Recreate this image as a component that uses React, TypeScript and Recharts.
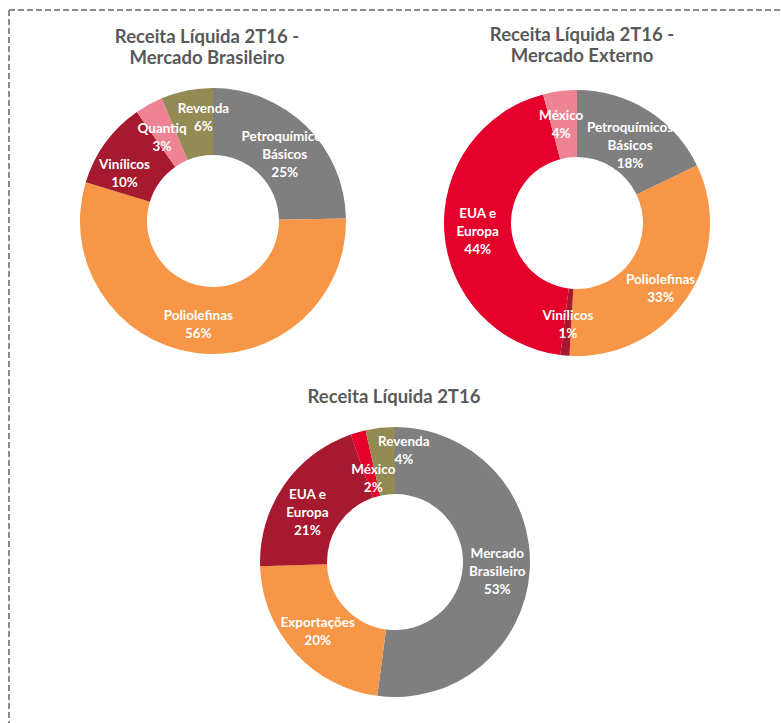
import React from 'react';
import { Cell, Pie, PieChart } from 'recharts';

// Receita Líquida 2T16 - Mercado Brasileiro
const brNames = ['Petroquímicos\nBásicos', 'Poliolefinas', 'Vinílicos', 'Quantiq', 'Revenda'];
const brValues = [24.7, 55, 10.6, 3.4, 6.3];
const brLabels = ['25%', '56%', '10%', '3%', '6%'];
const brColors = ['#7f7f7f', '#f79646', '#a6192e', '#ee8393', '#948a54'];

// Receita Líquida 2T16 - Mercado Externo
const extNames = ['Petroquímicos\nBásicos', 'Poliolefinas', 'Vinílicos', 'EUA e\nEuropa', 'México'];
const extValues = [17.9, 33, 1.1, 43.9, 4.1];
const extLabels = ['18%', '33%', '1%', '44%', '4%'];
const extColors = ['#7f7f7f', '#f79646', '#a6192e', '#e4002b', '#ee8393'];

// Receita Líquida 2T16
const totNames = ['Mercado\nBrasileiro', 'Exportações', 'EUA e\nEuropa', 'México', 'Revenda'];
const totValues = [52.1, 22.4, 20.2, 1.8, 3.5];
const totLabels = ['53%', '20%', '21%', '2%', '4%'];
const totColors = ['#7f7f7f', '#f79646', '#a6192e', '#e4002b', '#948a54'];

// small nudges for labels that Excel moved off the ring middle
const brShift = [[2, 4], [-1, 4], [-8, 10], [-3, 3], [10, -6]];
const extShift = [[0, 6], [1, 10], [0, 2], [0, 1], [-3, 0]];
const totShift = [[1, 2], [-2, 1], [-4, 8], [6, 14], [20, -11]];

const FONT = 'Lato, "Open Sans", sans-serif';
const RAD = Math.PI / 180;

const buildRows = (names: string[], values: number[], labels: string[]) =>
  names.map((name, i) => ({ name, value: values[i], pct: labels[i] }));

const makeLabel = (shift: number[][]) => (props: any) => {
  const { cx, cy, midAngle, innerRadius, outerRadius, payload, index } = props;
  const r = (innerRadius + outerRadius) / 2;
  const [dx, dy] = shift[index] ?? [0, 0];
  const x = cx + r * Math.cos(-midAngle * RAD) + dx;
  const y = cy + r * Math.sin(-midAngle * RAD) + dy;
  const lines = [...String(payload.name).split('\n'), payload.pct];
  const lh = 18;
  const top = y - ((lines.length - 1) * lh) / 2;
  return (
    <text
      x={x}
      y={top}
      textAnchor="middle"
      dominantBaseline="central"
      fill="#ffffff"
      fontFamily={FONT}
      fontWeight={700}
      fontSize={13.5}
    >
      {lines.map((l, i) => (
        <tspan key={i} x={x} y={top + i * lh}>
          {l}
        </tspan>
      ))}
    </text>
  );
};

interface DonutProps {
  left: number;
  top: number;
  size: number;
  inner: number;
  outer: number;
  names: string[];
  values: number[];
  labels: string[];
  colors: string[];
  shift: number[][];
}

const Donut: React.FC<DonutProps> = ({ left, top, size, inner, outer, names, values, labels, colors, shift }) => (
  <div style={{ position: 'absolute', left, top }}>
    <PieChart width={size} height={size} margin={{ top: 0, right: 0, bottom: 0, left: 0 }}>
      <Pie
        data={buildRows(names, values, labels)}
        dataKey="value"
        nameKey="name"
        cx="50%"
        cy="50%"
        innerRadius={inner}
        outerRadius={outer}
        startAngle={90}
        endAngle={-270}
        stroke="none"
        label={makeLabel(shift)}
        labelLine={false}
        isAnimationActive={false}
      >
        {values.map((_, i) => (
          <Cell key={i} fill={colors[i]} />
        ))}
      </Pie>
    </PieChart>
  </div>
);

const Title: React.FC<{ cx: number; top: number; lines: string[] }> = ({ cx, top, lines }) => (
  <div
    style={{
      position: 'absolute',
      left: cx - 150,
      top,
      width: 300,
      textAlign: 'center',
      fontFamily: FONT,
      fontWeight: 700,
      fontSize: 18.5,
      lineHeight: '20.5px',
      color: '#595959',
    }}
  >
    {lines.map((l) => (
      <div key={l}>{l}</div>
    ))}
  </div>
);

export default function App() {
  return (
    <div style={{ position: 'absolute', left: 0, top: 0, width: 781, height: 723, background: '#fff', overflow: 'hidden' }}>
      <svg width={781} height={723} style={{ position: 'absolute', left: 0, top: 0 }}>
        <line x1={9} y1={10} x2={781} y2={10} stroke="#8c8c8c" strokeWidth={2} strokeDasharray="6 3" />
        <line x1={9} y1={10} x2={9} y2={723} stroke="#8c8c8c" strokeWidth={2} strokeDasharray="6 3" />
      </svg>
      <Title cx={207} top={26} lines={['Receita Líquida 2T16 -', 'Mercado Brasileiro']} />
      <Title cx={582} top={24} lines={['Receita Líquida 2T16 -', 'Mercado Externo']} />
      <Title cx={394} top={386} lines={['Receita Líquida 2T16']} />
      <Donut left={63} top={71} size={300} inner={66} outer={133} names={brNames} values={brValues} labels={brLabels} colors={brColors} shift={brShift} />
      <Donut left={427} top={73} size={300} inner={66} outer={133} names={extNames} values={extValues} labels={extLabels} colors={extColors} shift={extShift} />
      <Donut left={245} top={412} size={300} inner={68} outer={135} names={totNames} values={totValues} labels={totLabels} colors={totColors} shift={totShift} />
    </div>
  );
}
